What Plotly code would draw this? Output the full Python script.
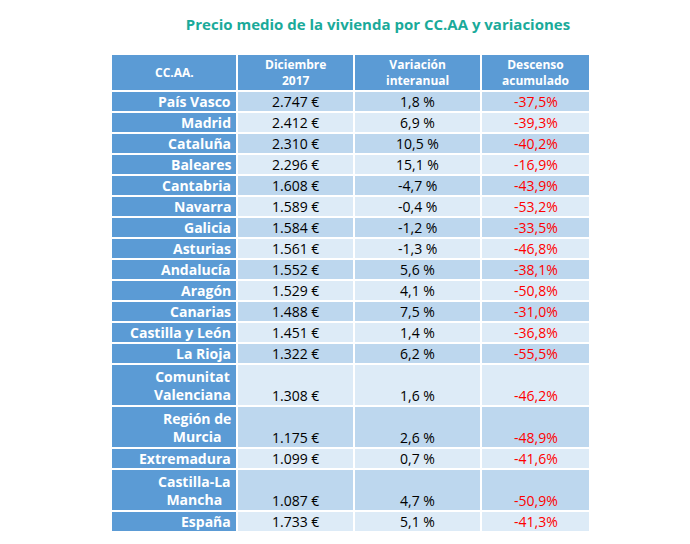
import plotly.graph_objects as go

regiones = ["País Vasco", "Madrid", "Cataluña", "Baleares", "Cantabria", "Navarra",
            "Galicia", "Asturias", "Andalucía", "Aragón", "Canarias", "Castilla y León",
            "La Rioja", "Comunitat<br>Valenciana", "Región de<br>Murcia", "Extremadura",
            "Castilla-La<br>Mancha", "España"]
precio = ["2.747 €", "2.412 €", "2.310 €", "2.296 €", "1.608 €", "1.589 €", "1.584 €",
          "1.561 €", "1.552 €", "1.529 €", "1.488 €", "1.451 €", "1.322 €", "1.308 €",
          "1.175 €", "1.099 €", "1.087 €", "1.733 €"]
variacion = ["1,8 %", "6,9 %", "10,5 %", "15,1 %", "-4,7 %", "-0,4 %", "-1,2 %", "-1,3 %",
             "5,6 %", "4,1 %", "7,5 %", "1,4 %", "6,2 %", "1,6 %", "2,6 %", "0,7 %",
             "4,7 %", "5,1 %"]
descenso = ["-37,5%", "-39,3%", "-40,2%", "-16,9%", "-43,9%", "-53,2%", "-33,5%", "-46,8%",
            "-38,1%", "-50,8%", "-31,0%", "-36,8%", "-55,5%", "-46,2%", "-48,9%", "-41,6%",
            "-50,9%", "-41,3%"]
cabecera = ["CC.AA.", "Diciembre<br>2017", "Variación<br>interanual", "Descenso<br>acumulado"]

# layout in pixel space
bordes = [103, 229, 346, 473, 582]
top, head_h, row_h = 46, 37, 21
azul = "#5B9BD5"
fuente = "Open Sans"

shapes, notes = [], []

def rect(x0, x1, y0, y1, color):
    shapes.append(dict(type="rect", xref="x", yref="y", x0=x0, x1=x1, y0=y0, y1=y1,
                       fillcolor=color, line=dict(color="white", width=2), layer="below"))

def nota(text, x, y, color, bold=False, align="center", size=14):
    notes.append(dict(text=("<b>%s</b>" % text) if bold else text, x=x, y=y, xref="x", yref="y",
                      showarrow=False, xanchor=align, yanchor="middle",
                      font=dict(family=fuente, size=size, color=color)))

# header
for j, c in enumerate(cabecera):
    rect(bordes[j], bordes[j + 1], top, top + head_h, azul)
    nota(c, (bordes[j] + bordes[j + 1]) / 2, top + head_h / 2, "white", bold=True, size=12)

y = top + head_h
for i, r in enumerate(regiones):
    lineas = r.count("<br>") + 1
    h = row_h * lineas
    fila = "#BDD7EE" if i % 2 == 0 else "#DDEBF7"
    rect(bordes[0], bordes[1], y, y + h, azul)
    nota(r, bordes[1] - 4, y + h / 2, "white", bold=True, align="right")
    yv = y + h - row_h / 2
    for j, (vals, col) in enumerate([(precio, "black"), (variacion, "black"), (descenso, "red")], 1):
        rect(bordes[j], bordes[j + 1], y, y + h, fila)
        nota(vals[i], (bordes[j] + bordes[j + 1]) / 2, yv, col)
    y += h

fig = go.Figure(go.Scatter(x=[], y=[]))
fig.update_layout(
    width=690, height=544, margin=dict(l=0, r=0, t=0, b=0),
    paper_bgcolor="white", plot_bgcolor="white",
    xaxis=dict(range=[0, 690], visible=False, fixedrange=True),
    yaxis=dict(range=[544, 0], visible=False, fixedrange=True),
    shapes=shapes, annotations=notes, showlegend=False,
    title=dict(text="<b>Precio medio de la vivienda por CC.AA y variaciones</b>",
               x=370 / 690, xanchor="center", y=1 - 17 / 544, yanchor="middle",
               font=dict(family=fuente, size=15, color="#1AAA9A")),
)
fig.write_html("out.html")
